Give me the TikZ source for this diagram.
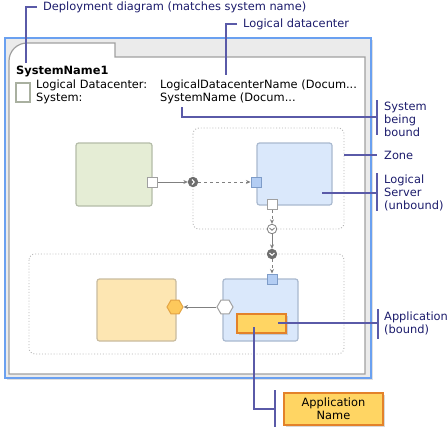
\documentclass[tikz,border=0pt]{standalone}
\usepackage{fontspec}
\setmainfont{DejaVu Sans}
\usetikzlibrary{arrows.meta,shapes.geometric,shadows}
\usepackage{xcolor}
\definecolor{frameblue}{HTML}{6AA0F0}
\definecolor{panelgray}{HTML}{EBEBEB}
\definecolor{paneledge}{HTML}{A0A0A0}
\definecolor{notenavy}{HTML}{1C1C6C}
\definecolor{calloutline}{HTML}{5A5AA8}
\definecolor{greenfill}{HTML}{E5EDD5}
\definecolor{greenedge}{HTML}{B4BCA8}
\definecolor{bluefill}{HTML}{DAE8FB}
\definecolor{blueedge}{HTML}{A9B9CF}
\definecolor{orangefill}{HTML}{FDE6B2}
\definecolor{orangeedge}{HTML}{C9BC9F}
\definecolor{portblue}{HTML}{B3CDF3}
\definecolor{portedge}{HTML}{7E9CC8}
\definecolor{appfill}{HTML}{FFD563}
\definecolor{appedge}{HTML}{E3822A}
\definecolor{hexfill}{HTML}{FDC95C}
\definecolor{hexedge}{HTML}{E3A444}
\definecolor{hubgray}{HTML}{6E6E6E}
\definecolor{wiregray}{HTML}{808080}
\definecolor{zonedots}{HTML}{B4B4B4}

\begin{document}
\begin{tikzpicture}[x=1pt,y=-1pt,>={Stealth[length=4.5pt,width=4pt]},
  every node/.style={font=\fontsize{11.4}{13}\selectfont},
  note/.style={text=notenavy,anchor=west,align=left,inner sep=0pt},
  callout/.style={draw=calloutline,line width=1.3pt},
  box/.style={draw,line width=1.2pt,rounded corners=2.5pt,inner sep=0pt},
  port/.style={draw,line width=1pt,minimum size=10pt,inner sep=0pt},
  hub/.style={circle,draw=hubgray,line width=0.8pt,minimum size=9.5pt,inner sep=0pt},
  hexa/.style={regular polygon,regular polygon sides=6,line width=1pt,minimum size=16pt,inner sep=0pt},
  wire/.style={draw=wiregray,line width=0.9pt},
  zone/.style={draw=zonedots,dotted,line width=0.9pt,rounded corners=6pt}]
\useasboundingbox (0,0) rectangle (447,434);

% frame and panel
\draw[frameblue,fill=panelgray,line width=1.5pt,drop shadow={opacity=0.25,shadow xshift=1.5pt,shadow yshift=-2pt}]
  (5,38) rectangle (371,378);
\draw[paneledge,fill=white,line width=1.2pt] (9,374) -- (9,61) arc[start angle=180,end angle=270,radius=18]
  -- (115,43) -- (115,57) -- (365,57) -- (365,374) -- cycle;

\node[anchor=west,inner sep=0pt,font=\fontsize{11.4}{13}\selectfont\bfseries] (sysname) at (16,71) {SystemName1};
\draw[draw=greenedge!80!gray,line width=1.2pt] (16,83) rectangle (30,102);
\node[anchor=north west,inner sep=0pt,align=left] (props) at (36,80) {Logical Datacenter:\\System:};
\node[anchor=north west,inner sep=0pt,align=left] (values) at (160,80) {LogicalDatacenterName (Docum...\\SystemName (Docum...};

% zones
\draw[zone] (193,128) rectangle (344,229);
\draw[zone] (29,254) rectangle (344,354);

% boxes
\node[box,draw=greenedge,fill=greenfill,minimum width=76pt,minimum height=63pt] (client) at (114,174.5) {};
\node[box,draw=blueedge,fill=bluefill,minimum width=75pt,minimum height=62pt] (server) at (294.5,174) {};
\node[box,draw=orangeedge,fill=orangefill,minimum width=79pt,minimum height=62pt] (store) at (136.5,310) {};
\node[box,draw=blueedge,fill=bluefill,minimum width=75pt,minimum height=62pt] (host) at (260.5,310) {};
\node[draw=appedge,fill=appfill,line width=1.2pt,minimum width=49pt,minimum height=19pt,
  drop shadow={opacity=0.3,shadow xshift=1.5pt,shadow yshift=-1.5pt}] (app) at (261.5,323.5) {};

% ports and hubs
\node[port,draw=paneledge,fill=white] (clientout) at (152,182) {};
\node[hub,fill=hubgray] (hubin) at (193,182) {};
\node[port,draw=portedge,fill=portblue] (serverin) at (256,182) {};
\node[port,draw=paneledge,fill=white] (serverout) at (272,204) {};
\node[hub,draw=wiregray,fill=white] (hubout) at (272,229) {};
\node[hub,fill=hubgray] (hubdown) at (272,254) {};
\node[port,draw=portedge,fill=portblue] (hostin) at (272,279) {};
\node[hexa,draw=hexedge,fill=hexfill] (storeport) at (175,307) {};
\node[hexa,draw=paneledge,fill=white] (hostport) at (225,307) {};

\draw[white,line width=1.1pt] ([shift={(-1,-2.5)}]hubin.center) -- ++(2.2,2.5) -- ++(-2.2,2.5);
\draw[wiregray,line width=0.9pt] ([shift={(-2.5,-1)}]hubout.center) -- ++(2.5,2.2) -- ++(2.5,-2.2);
\draw[white,line width=1.1pt] ([shift={(-2.5,-1)}]hubdown.center) -- ++(2.5,2.2) -- ++(2.5,-2.2);

% connectors
\draw[wire,->] (clientout) -- (hubin);
\draw[wire,dashed,->] (hubin) -- (serverin);
\draw[wire,dashed,->] (serverout) -- (hubout);
\draw[wire,->] (hubout) -- (hubdown);
\draw[wire,dashed,->] (hubdown) -- (hostin);
\draw[wire,->] (hostport) -- (storeport);

% callouts
\node[note] (deplbl) at (43,7) {Deployment diagram (matches system name)};
\coordinate (depend) at (26,63);
\draw[callout] ([xshift=-6pt]deplbl.west) -| (depend);

\node[note] (dclbl) at (243,24) {Logical datacenter};
\coordinate (dcend) at (226,75);
\draw[callout] ([xshift=-6pt]dclbl.west) -| (dcend);

\node[note] (boundlbl) at (384,119) {System\\being\\bound};
\coordinate (boundfrom) at (182,107);
\coordinate (boundbar) at (377,117);
\draw[callout] (boundfrom) |- (boundbar);
\draw[callout] (377,100) -- (377,135);

\node[note] (zonelbl) at (384,155) {Zone};
\coordinate (zonefrom) at (344,155);
\draw[callout] (zonefrom) -- ([xshift=-7pt]zonelbl.west);

\node[note] (serverlbl) at (384,193) {Logical\\Server\\(unbound)};
\coordinate (serverfrom) at (322,193);
\draw[callout] (serverfrom) -- (377,193);
\draw[callout] (377,173) -- (377,211);

\node[note] (applbl) at (384,323) {Application\\(bound)};
\coordinate (appfrom) at (278,323);
\draw[callout] (appfrom) -- (378,323);
\draw[callout] (378,309) -- (378,339);

\node[draw=appedge,fill=appfill,line width=1.2pt,minimum width=99pt,minimum height=32pt,align=center,inner sep=0pt,
  drop shadow={opacity=0.3,shadow xshift=1.5pt,shadow yshift=-1.5pt}] (appname) at (333.5,409) {Application\\Name};
\coordinate (namefrom) at (254,327);
\draw[callout] (namefrom) |- (275,409);
\draw[callout] (275,390) -- (275,427);
\end{tikzpicture}
\end{document}
